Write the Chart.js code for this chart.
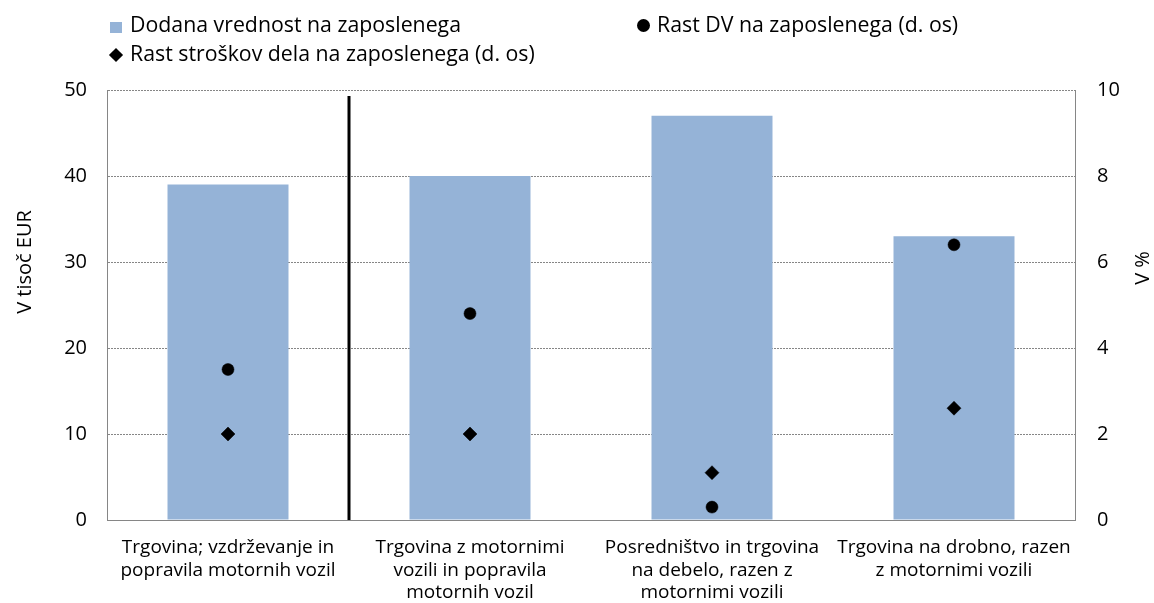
<!DOCTYPE html>
<html>
<head>
<meta charset="utf-8">
<script src="https://cdn.jsdelivr.net/npm/chart.js@4.4.1/dist/chart.umd.min.js"></script>
<style>
  html, body { margin:0; padding:0; background:#fff; }
  #wrap { position:relative; width:1154px; height:603px; font-family:"Open Sans", sans-serif; }
  canvas { position:absolute; left:0; top:0; }
  .lg { position:absolute; font-size:21.3px; line-height:24px; color:#000; white-space:nowrap; }
  .sw { position:absolute; }
</style>
</head>
<body>
<div id="wrap">
  <canvas id="c" width="1154" height="603"></canvas>
  <div class="sw" style="left:110px;top:22px;width:12px;height:11px;background:#95B3D7;"></div>
  <div class="lg" style="left:130px;top:12px;">Dodana vrednost na zaposlenega</div>
  <div class="sw" style="left:637px;top:19px;width:13px;height:13px;border-radius:50%;background:#000;"></div>
  <div class="lg" style="left:657px;top:12px;">Rast DV na zaposlenega (d. os)</div>
  <div class="sw" style="left:111px;top:50px;width:10px;height:10px;background:#000;transform:rotate(45deg);"></div>
  <div class="lg" style="left:130px;top:41px;">Rast stroškov dela na zaposlenega (d. os)</div>
</div>
<script>
const categories = [
  ["Trgovina; vzdrževanje in", "popravila motornih vozil"],
  ["Trgovina z motornimi", "vozili in popravila", "motornih vozil"],
  ["Posredništvo in trgovina", "na debelo, razen z", "motornimi vozili"],
  ["Trgovina na drobno, razen", "z motornimi vozili"]
];
const valueAddedPerEmployee = [39, 40, 47, 33];          // v tisoč EUR (levo)
const valueAddedGrowth = [3.5, 4.8, 0.3, 6.4];            // v % (desno)
const laborCostGrowth = [2.0, 2.0, 1.1, 2.6];             // v % (desno)
const leftTicks = [0, 10, 20, 30, 40, 50];
const rightTicks = [0, 2, 4, 6, 8, 10];
const dividerAfterCategory = 0;   // separator between 1st and 2nd category
const dividerTopValue = 49.3;     // top of separator on left axis

const FONT = { family: '"Open Sans", sans-serif', size: 20 };
const FONT_X = { family: '"Open Sans", sans-serif', size: 19, lineHeight: 1.2 };
const GRAY = '#868686';

const overlay = {
  id: 'overlay',
  afterDatasetsDraw(chart) {
    const { ctx, scales: { x, y } } = chart;
    const xp = (x.getPixelForValue(dividerAfterCategory) + x.getPixelForValue(dividerAfterCategory + 1)) / 2;
    ctx.save();
    ctx.strokeStyle = '#000';
    ctx.lineWidth = 3;
    ctx.beginPath();
    ctx.moveTo(xp, y.getPixelForValue(dividerTopValue));
    ctx.lineTo(xp, y.getPixelForValue(0));
    ctx.stroke();
    ctx.restore();
  },
  afterDraw(chart) {
    const { ctx } = chart;
    ctx.save();
    ctx.fillStyle = '#000';
    ctx.font = '20px "Open Sans", sans-serif';
    ctx.textAlign = 'center';
    ctx.textBaseline = 'middle';
    ctx.translate(25, 262);
    ctx.rotate(-Math.PI / 2);
    ctx.fillText('V tisoč EUR', 0, 0);
    ctx.restore();
    ctx.save();
    ctx.fillStyle = '#000';
    ctx.font = '20px "Open Sans", sans-serif';
    ctx.textAlign = 'center';
    ctx.textBaseline = 'middle';
    ctx.translate(1143, 268);
    ctx.rotate(-Math.PI / 2);
    ctx.fillText('V %', 0, 0);
    ctx.restore();
  }
};

new Chart(document.getElementById('c'), {
  type: 'bar',
  data: {
    labels: categories,
    datasets: [
      {
        label: 'Dodana vrednost na zaposlenega',
        data: valueAddedPerEmployee,
        backgroundColor: '#95B3D7',
        borderWidth: 0,
        yAxisID: 'y',
        categoryPercentage: 1,
        barPercentage: 0.5,
        order: 3
      },
      {
        type: 'line',
        label: 'Rast DV na zaposlenega (d. os)',
        data: valueAddedGrowth,
        showLine: false,
        pointStyle: 'circle',
        pointRadius: 6,
        pointBorderWidth: 0.5,
        backgroundColor: '#000',
        borderColor: '#000',
        yAxisID: 'y1',
        order: 1
      },
      {
        type: 'line',
        label: 'Rast stroškov dela na zaposlenega (d. os)',
        data: laborCostGrowth,
        showLine: false,
        pointStyle: 'rectRot',
        pointRadius: 7,
        pointBorderWidth: 0.5,
        backgroundColor: '#000',
        borderColor: '#000',
        yAxisID: 'y1',
        order: 2
      }
    ]
  },
  options: {
    responsive: false,
    animation: false,
    devicePixelRatio: 1,
    layout: { padding: { top: 90, left: 0, right: 0, bottom: 0 } },
    plugins: { legend: { display: false }, tooltip: { enabled: false } },
    scales: {
      x: {
        grid: { display: false, drawTicks: false },
        border: { display: true, color: GRAY, width: 1 },
        ticks: { font: FONT_X, color: '#000', padding: 16, maxRotation: 0, minRotation: 0, autoSkip: false },
        afterFit(s) { s.height = 83; }
      },
      y: {
        position: 'left',
        min: 0, max: 50,
        afterBuildTicks(s) { s.ticks = leftTicks.map(v => ({ value: v })); },
        ticks: { font: FONT, color: '#000', padding: 20 },
        grid: { color: GRAY, lineWidth: 1, drawTicks: false },
        border: { display: true, color: GRAY, width: 1, dash: [2, 1] },
        afterFit(s) { s.width = 107; }
      },
      y1: {
        position: 'right',
        min: 0, max: 10,
        afterBuildTicks(s) { s.ticks = rightTicks.map(v => ({ value: v })); },
        ticks: { font: FONT, color: '#000', padding: 22 },
        grid: { drawOnChartArea: false, drawTicks: false },
        border: { display: true, color: GRAY, width: 1 },
        afterFit(s) { s.width = 79; }
      }
    }
  },
  plugins: [overlay]
});
</script>
</body>
</html>
